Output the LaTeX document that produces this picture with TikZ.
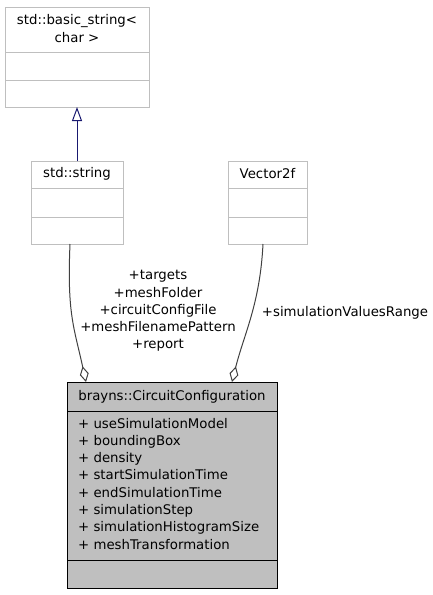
\documentclass[tikz,border=0pt]{standalone}
\usepackage{fontspec}
\setmainfont{DejaVu Sans}
\usetikzlibrary{arrows.meta}
\definecolor{boxgray}{HTML}{BFBFBF}
\definecolor{edgegray}{HTML}{404040}
\definecolor{midnight}{HTML}{191970}
\begin{document}
\begin{tikzpicture}[x=1pt,y=-1pt,
  txt/.style={font=\fontsize{13.3}{17.2}\selectfont, inner sep=0pt, align=center},
  graybox/.style={draw=boxgray, line width=1pt, fill=white, inner sep=0pt, outer sep=0pt, anchor=north west},
  mainbox/.style={draw=black, line width=1pt, fill=boxgray, inner sep=0pt, outer sep=0pt, anchor=north west},
  inh/.style={draw=midnight, line width=1pt, -{Triangle[open, length=14pt, width=10pt]}},
  agg/.style={draw=edgegray, line width=1pt, -{Diamond[open, length=16pt, width=9pt]}}
]
\path[use as bounding box] (0,0) rectangle (433,595);

% std::basic_string<char>
\node[graybox, minimum width=144pt, minimum height=100pt] (bs) at (5,7) {};
\draw[boxgray, line width=1pt] (5,52) -- (149,52) (5,80) -- (149,80);
\node[txt] (bst) at (77,28.5) {std::basic\_string<\\char >};

% std::string
\node[graybox, minimum width=92pt, minimum height=83pt] (str) at (31,161) {};
\draw[boxgray, line width=1pt] (31,188) -- (123,188) (31,217) -- (123,217);
\node[txt] (strt) at (77,174) {std::string};

% Vector2f
\node[graybox, minimum width=79pt, minimum height=83pt] (vec) at (228,161) {};
\draw[boxgray, line width=1pt] (228,188) -- (307,188) (228,217) -- (307,217);
\node[txt] (vect) at (267.5,174) {Vector2f};

% brayns::CircuitConfiguration
\node[mainbox, minimum width=210pt, minimum height=206pt] (cc) at (67,382) {};
\draw[black, line width=1pt] (67,411) -- (277,411) (67,560) -- (277,560);
\node[txt, anchor=base] (cct) at (172,400) {brayns::CircuitConfiguration};
\foreach \t [count=\i] in {useSimulationModel, boundingBox, density, startSimulationTime, endSimulationTime, simulationStep, simulationHistogramSize, meshTransformation}{
  \node[txt, anchor=base west] (a\i) at (78,{428+17.3*(\i-1)}) {+ \t};
}

% inheritance
\draw[inh] (str.north) -- (bs.south);

% aggregations
\draw[agg] ([xshift=-7pt]str.south) .. controls +(-3,70) and +(-12,-55) .. ([xshift=-86pt]cc.north);
\draw[agg] ([xshift=-4.5pt]vec.south) .. controls +(-3,60) and +(12,-48) .. ([xshift=60pt]cc.north);

% edge labels
\node[txt] (l1) at (158,311) {+targets\\+meshFolder\\+circuitConfigFile\\+meshFilenamePattern\\+report};
\node[txt] (l2) at (345,313) {+simulationValuesRange};
\end{tikzpicture}
\end{document}
